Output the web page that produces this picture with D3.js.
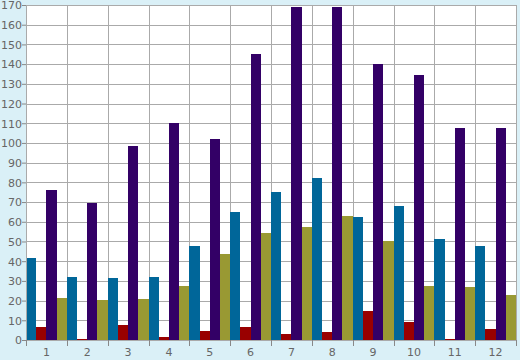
<!DOCTYPE html>
<html><head><meta charset="utf-8">
<script src="https://cdn.jsdelivr.net/npm/d3@7"></script>
<style>html,body{margin:0;padding:0;background:#daf0f7;}svg{display:block;}</style>
</head><body>
<svg id="c" width="520" height="360"></svg>
<script>
const categories = ["1","2","3","4","5","6","7","8","9","10","11","12"];
const seriesNames = ["A","B","C","D"];
const tealVals   = [41.6, 32, 31.4, 32, 47.7, 65, 75.1, 82.2, 62.4, 68, 51.3, 47.7];
const redVals    = [6.6, 0.5, 7.6, 1.5, 4.6, 6.6, 3, 4, 14.7, 9.1, 0.6, 5.6];
const purpleVals = [76.1, 69.5, 98.5, 110.2, 102, 145.2, 169, 169, 140.1, 134.5, 107.6, 107.6];
const oliveVals  = [21.3, 20.3, 20.8, 27.4, 43.7, 54.3, 57.4, 62.9, 50.3, 27.4, 26.9, 22.8];
const colors = ["#006699", "#990000", "#330066", "#999933"];
const yTicks = d3.range(0, 171, 10);

const series = [tealVals, redVals, purpleVals, oliveVals];
const svg = d3.select("#c");
const L = 26, R = 516, T = 5, B = 340;
const x = d3.scaleBand().domain(categories).range([L, R]).padding(0);
const xs = d3.scaleBand().domain(d3.range(series.length)).range([0, x.bandwidth()]).padding(0);
const y = d3.scaleLinear().domain([0, 170]).range([B, T]);

svg.append("rect").attr("x", L).attr("y", T).attr("width", R - L).attr("height", B - T).attr("fill", "#fff");

// grid
const g = svg.append("g").attr("shape-rendering", "crispEdges");
g.selectAll("line.h").data(yTicks).join("line")
  .attr("x1", L).attr("x2", R).attr("y1", d => Math.round(y(d)) + 0.5).attr("y2", d => Math.round(y(d)) + 0.5)
  .attr("stroke", "#aaa");
const bounds = categories.map(c => x(c)).concat([R]);
g.selectAll("line.v").data(bounds).join("line")
  .attr("x1", d => Math.round(d) + 0.5).attr("x2", d => Math.round(d) + 0.5).attr("y1", T).attr("y2", B)
  .attr("stroke", "#aaa");

// bars
const bg = svg.append("g").attr("shape-rendering", "crispEdges");
series.forEach((vals, si) => {
  bg.selectAll(null).data(vals).join("rect")
    .attr("x", (d, i) => x(categories[i]) + xs(si))
    .attr("width", xs.bandwidth())
    .attr("y", d => y(d))
    .attr("height", d => B - y(d))
    .attr("fill", colors[si]);
});

// axes
const yAxis = d3.axisLeft(y).tickValues(yTicks).tickSize(4).tickSizeOuter(0);
const ya = svg.append("g").attr("transform", `translate(${L},0)`).call(yAxis);
ya.select(".domain").attr("stroke", "#aaa");
ya.selectAll(".tick line").attr("stroke", "#888");
ya.selectAll("text").attr("fill", "#666").attr("font-family", "DejaVu Sans, Verdana, sans-serif").attr("font-size", 11).attr("x", -4).attr("dy", "0.35em");

const xAxis = d3.axisBottom(x).tickSize(0).tickSizeOuter(0);
const xa = svg.append("g").attr("transform", `translate(0,${B})`).call(xAxis);
xa.select(".domain").attr("stroke", "#aaa");
xa.selectAll("text").attr("fill", "#666").attr("font-family", "DejaVu Sans, Verdana, sans-serif").attr("font-size", 11).attr("y", 8);
svg.append("g").attr("shape-rendering", "crispEdges").selectAll("line").data(bounds).join("line")
  .attr("x1", d => Math.round(d) + 0.5).attr("x2", d => Math.round(d) + 0.5).attr("y1", B).attr("y2", B + 6)
  .attr("stroke", "#888");
</script>
</body></html>
